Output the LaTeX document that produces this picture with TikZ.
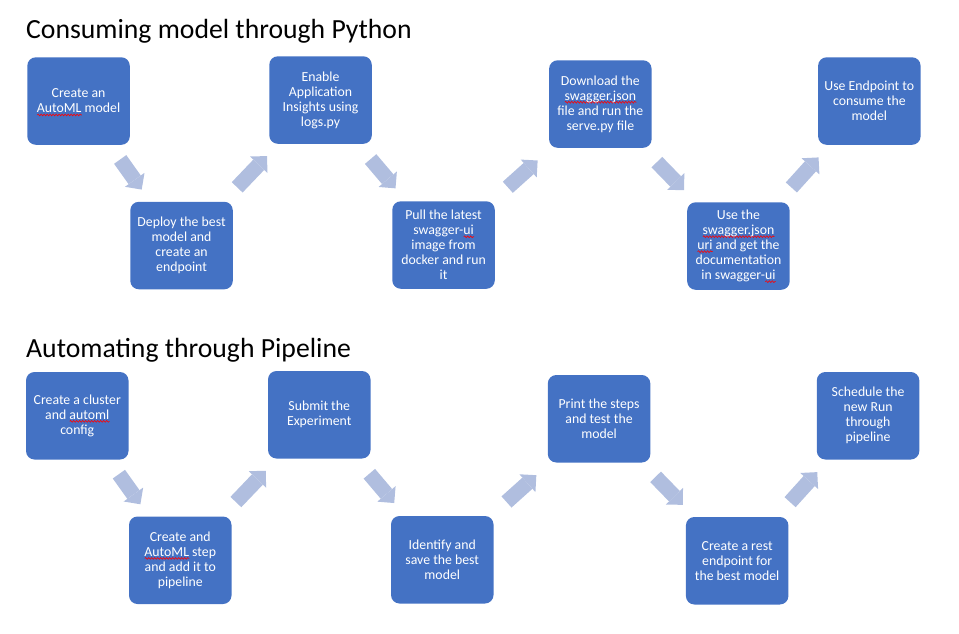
\documentclass[tikz,border=0pt]{standalone}
\usepackage{fontspec}
\setmainfont{Carlito}
\usetikzlibrary{positioning,arrows.meta,decorations.pathmorphing}

\definecolor{boxblue}{HTML}{4472C4}
\definecolor{arrowblue}{RGB}{176,190,223}
% red spell-check wave under a word
\newlength\spellwd
\newcommand\spell[1]{\settowidth\spellwd{#1}\rlap{\smash{\tikz[baseline=0pt]\draw[spellwave] (0pt,-2pt) -- (\spellwd,-2pt);}}#1}

\tikzset{
  stepbox/.style={fill=boxblue, rounded corners=8.5pt, minimum width=102.5pt, minimum height=87.5pt,
    inner sep=0pt, outer sep=0pt, text=white, align=center, font=\fontsize{13.8}{15}\selectfont},
  bendarrow/.style={draw=arrowblue, line width=15pt, -{Triangle[length=12pt,width=24pt,line width=0pt]},
    shorten <=20pt, shorten >=17pt},
  heading/.style={anchor=base west, inner sep=0pt, font=\fontsize{27.7}{33}\selectfont},
  spellwave/.style={red, line width=0.6pt, sharp corners, decorate,
    decoration={snake, amplitude=0.9pt, segment length=3pt}},
}

\begin{document}
\begin{tikzpicture}[x=1pt,y=-1pt]
    \useasboundingbox (0,0) rectangle (959,634);

    % first process
    \node[heading] (python) at (26,39) {Consuming model through Python};

    \node[stepbox, anchor=north west] (automl) at (27.3,57.3) {Create an\\\spell{AutoML} model};
    \node[stepbox, below right=57pt and 0.5pt of automl] (deploy) {Deploy the best\\model and\\create an\\endpoint};
    \node[stepbox, above right=58pt and 36.5pt of deploy] (insights) {Enable\\Application\\Insights using\\logs.py};
    \node[stepbox, below right=57.5pt and 20.5pt of insights] (pull) {Pull the latest\\swagger-\spell{ui}\\image from\\docker and run\\it};
    \node[stepbox, above right=53.5pt and 54.3pt of pull] (download) {Download the\\\spell{swagger.json}\\file and run the\\serve.py file};
    \node[stepbox, below right=54.5pt and 35.6pt of download] (docs) {Use the\\\spell{swagger.json}\\\spell{uri} and get the\\documentation\\in swagger-\spell{ui}};
    \node[stepbox, above right=57.5pt and 28.4pt of docs] (consume) {Use Endpoint to\\consume the\\model};

    \draw[bendarrow, shorten <=18pt, shorten >=15pt] (automl) -- (deploy);
    \draw[bendarrow] (deploy) -- (insights);
    \draw[bendarrow] (insights) -- (pull);
    \draw[bendarrow, shorten <=21pt, shorten >=19pt] (pull) -- (download);
    \draw[bendarrow] (download) -- (docs);
    \draw[bendarrow] (docs) -- (consume);

    % second process
    \node[heading] (pipeline) at (26,357) {Automating through Pipeline};

    \node[stepbox, anchor=north west] (cluster) at (26,372) {Create a cluster\\and \spell{automl}\\config};
    \node[stepbox, below right=57pt and 0.5pt of cluster] (automlstep) {Create and\\\spell{AutoML} step\\and add it to\\pipeline};
    \node[stepbox, above right=58pt and 36.5pt of automlstep] (submit) {Submit the\\Experiment};
    \node[stepbox, below right=57.5pt and 20.5pt of submit] (identify) {Identify and\\save the best\\model};
    \node[stepbox, above right=53.5pt and 54.3pt of identify] (print) {Print the steps\\and test the\\model};
    \node[stepbox, below right=54.5pt and 35.6pt of print] (rest) {Create a rest\\endpoint for\\the best model};
    \node[stepbox, above right=57.5pt and 28.4pt of rest] (schedule) {Schedule the\\new Run\\through\\pipeline};

    \draw[bendarrow, shorten <=18pt, shorten >=15pt] (cluster) -- (automlstep);
    \draw[bendarrow] (automlstep) -- (submit);
    \draw[bendarrow] (submit) -- (identify);
    \draw[bendarrow, shorten <=21pt, shorten >=19pt] (identify) -- (print);
    \draw[bendarrow] (print) -- (rest);
    \draw[bendarrow] (rest) -- (schedule);
\end{tikzpicture}
\end{document}
